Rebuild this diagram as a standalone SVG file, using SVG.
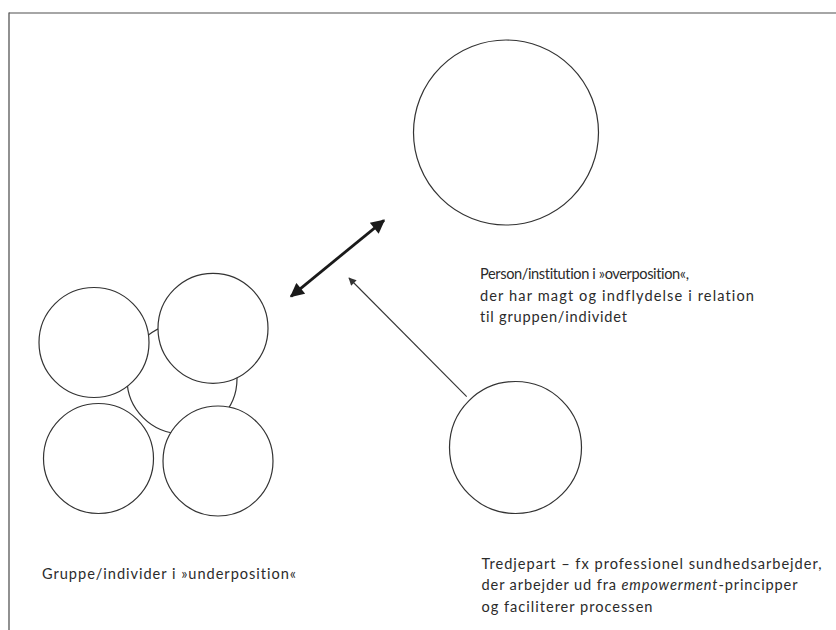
<svg xmlns="http://www.w3.org/2000/svg" width="836" height="630" viewBox="0 0 836 630">
<style>
.c{fill:#fff;stroke:#333;stroke-width:1.2}
.t{font-family:Lato,"Open Sans",sans-serif;font-size:14.6px;fill:#2b2b2b;font-variant-ligatures:none}
</style>
<defs>
<marker id="big" viewBox="0 0 10 10" refX="9" refY="5" markerWidth="5.5" markerHeight="5" orient="auto-start-reverse" markerUnits="strokeWidth">
<path d="M0,0 L10,5 L0,10 z" fill="#1a1a1a"/>
</marker>
<marker id="small" viewBox="0 0 10 10" refX="9" refY="5" markerWidth="9" markerHeight="7" orient="auto" markerUnits="strokeWidth">
<path d="M0,0 L10,5 L0,10 z" fill="#333"/>
</marker>
</defs>
<rect width="836" height="630" fill="#fff"/>
<g id="frame">
<line x1="9" y1="13" x2="836" y2="13" stroke="#888" stroke-width="1.4"/>
<line x1="9" y1="12.5" x2="9" y2="630" stroke="#555" stroke-width="1.3"/>
</g>
<g id="group">
<circle class="c" cx="182" cy="378.7" r="55"/>
<circle class="c" cx="94" cy="342.5" r="55"/>
<circle class="c" cx="98.5" cy="458.5" r="55"/>
<circle class="c" cx="213" cy="328.3" r="55"/>
<circle class="c" cx="218" cy="461" r="55"/>
<text class="t" x="42" y="579" textLength="254" lengthAdjust="spacing">Gruppe/individer i »underposition«</text>
</g>
<g id="over">
<circle class="c" cx="506" cy="132.5" r="92.5"/>
<text class="t" x="480" y="279" textLength="209" lengthAdjust="spacing">Person/institution i »overposition«,</text>
<text class="t" x="480" y="300.5" textLength="274" lengthAdjust="spacing">der har magt og indflydelse i relation</text>
<text class="t" x="480" y="322" textLength="147" lengthAdjust="spacing">til gruppen/individet</text>
</g>
<g id="third">
<circle class="c" cx="515.5" cy="447.5" r="66"/>
<text class="t" x="481.5" y="568.5" textLength="340" lengthAdjust="spacing">Tredjepart – fx professionel sundhedsarbejder,</text>
<text class="t" x="481.5" y="590" textLength="316" lengthAdjust="spacing">der arbejder ud fra <tspan font-style="italic">empowerment</tspan>-principper</text>
<text class="t" x="481.5" y="611.5" textLength="171" lengthAdjust="spacing">og faciliterer processen</text>
</g>
<g id="connectors">
<line x1="291" y1="296.3" x2="384" y2="220.3" stroke="#1a1a1a" stroke-width="2.8" marker-start="url(#big)" marker-end="url(#big)"/>
<line x1="466.7" y1="396.7" x2="349" y2="278" stroke="#333" stroke-width="1.1" marker-end="url(#small)"/>
</g>
</svg>
